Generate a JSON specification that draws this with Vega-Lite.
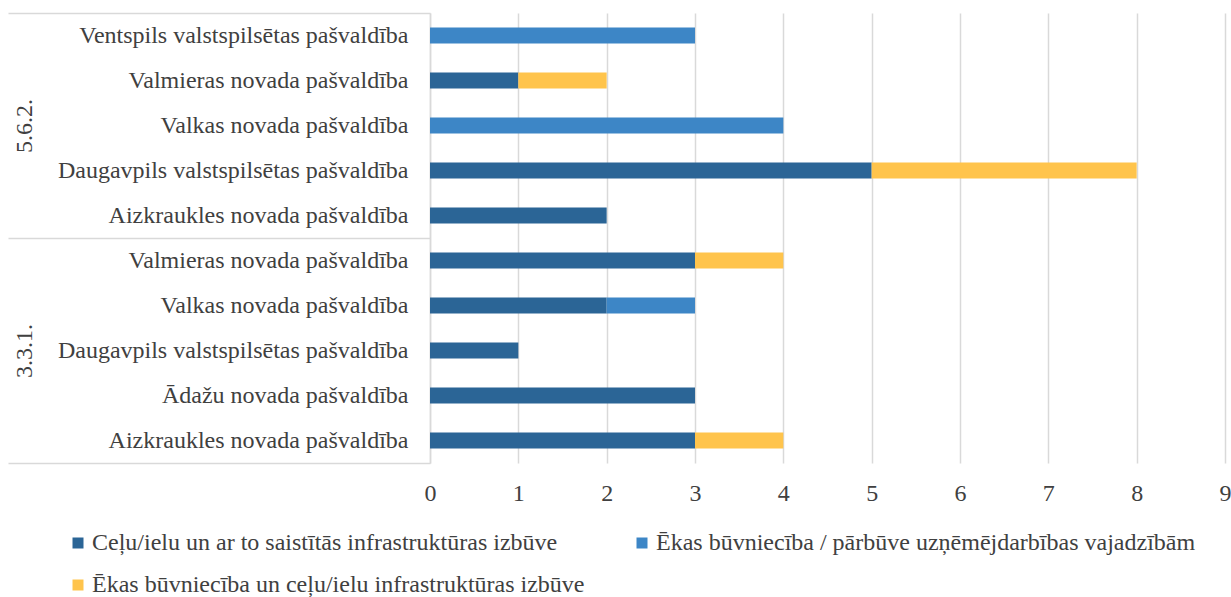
{
  "$schema": "https://vega.github.io/schema/vega-lite/v6.json",
  "autosize": "none",
  "width": 795,
  "height": 450,
  "padding": {"left": 430, "top": 13, "right": 6, "bottom": 134},
  "background": "white",
  "config": {
    "view": {"stroke": null},
    "font": "Liberation Serif",
    "axis": {"labelFont": "Liberation Serif", "labelColor": "#404040", "labelFontSize": 24},
    "legend": {"labelFont": "Liberation Serif", "labelColor": "#404040", "labelFontSize": 24}
  },
  "data": {
    "values": [
      {"grp": "5.6.2.", "key": "5.6.2.|Ventspils valstspilsētas pašvaldība", "cat": "Ēkas būvniecība / pārbūve uzņēmējdarbības vajadzībām", "ord": 2, "val": 3},
      {"grp": "5.6.2.", "key": "5.6.2.|Valmieras novada pašvaldība", "cat": "Ceļu/ielu un ar to saistītās infrastruktūras izbūve", "ord": 1, "val": 1},
      {"grp": "5.6.2.", "key": "5.6.2.|Valmieras novada pašvaldība", "cat": "Ēkas būvniecība un ceļu/ielu infrastruktūras izbūve", "ord": 3, "val": 1},
      {"grp": "5.6.2.", "key": "5.6.2.|Valkas novada pašvaldība", "cat": "Ēkas būvniecība / pārbūve uzņēmējdarbības vajadzībām", "ord": 2, "val": 4},
      {"grp": "5.6.2.", "key": "5.6.2.|Daugavpils valstspilsētas pašvaldība", "cat": "Ceļu/ielu un ar to saistītās infrastruktūras izbūve", "ord": 1, "val": 5},
      {"grp": "5.6.2.", "key": "5.6.2.|Daugavpils valstspilsētas pašvaldība", "cat": "Ēkas būvniecība un ceļu/ielu infrastruktūras izbūve", "ord": 3, "val": 3},
      {"grp": "5.6.2.", "key": "5.6.2.|Aizkraukles novada pašvaldība", "cat": "Ceļu/ielu un ar to saistītās infrastruktūras izbūve", "ord": 1, "val": 2},
      {"grp": "3.3.1.", "key": "3.3.1.|Valmieras novada pašvaldība", "cat": "Ceļu/ielu un ar to saistītās infrastruktūras izbūve", "ord": 1, "val": 3},
      {"grp": "3.3.1.", "key": "3.3.1.|Valmieras novada pašvaldība", "cat": "Ēkas būvniecība un ceļu/ielu infrastruktūras izbūve", "ord": 3, "val": 1},
      {"grp": "3.3.1.", "key": "3.3.1.|Valkas novada pašvaldība", "cat": "Ceļu/ielu un ar to saistītās infrastruktūras izbūve", "ord": 1, "val": 2},
      {"grp": "3.3.1.", "key": "3.3.1.|Valkas novada pašvaldība", "cat": "Ēkas būvniecība / pārbūve uzņēmējdarbības vajadzībām", "ord": 2, "val": 1},
      {"grp": "3.3.1.", "key": "3.3.1.|Daugavpils valstspilsētas pašvaldība", "cat": "Ceļu/ielu un ar to saistītās infrastruktūras izbūve", "ord": 1, "val": 1},
      {"grp": "3.3.1.", "key": "3.3.1.|Ādažu novada pašvaldība", "cat": "Ceļu/ielu un ar to saistītās infrastruktūras izbūve", "ord": 1, "val": 3},
      {"grp": "3.3.1.", "key": "3.3.1.|Aizkraukles novada pašvaldība", "cat": "Ceļu/ielu un ar to saistītās infrastruktūras izbūve", "ord": 1, "val": 3},
      {"grp": "3.3.1.", "key": "3.3.1.|Aizkraukles novada pašvaldība", "cat": "Ēkas būvniecība un ceļu/ielu infrastruktūras izbūve", "ord": 3, "val": 1}
    ]
  },
  "layer": [
    {
      "mark": {"type": "bar"},
      "encoding": {
        "y": {
          "field": "key",
          "type": "nominal",
          "sort": [
            "5.6.2.|Ventspils valstspilsētas pašvaldība",
            "5.6.2.|Valmieras novada pašvaldība",
            "5.6.2.|Valkas novada pašvaldība",
            "5.6.2.|Daugavpils valstspilsētas pašvaldība",
            "5.6.2.|Aizkraukles novada pašvaldība",
            "3.3.1.|Valmieras novada pašvaldība",
            "3.3.1.|Valkas novada pašvaldība",
            "3.3.1.|Daugavpils valstspilsētas pašvaldība",
            "3.3.1.|Ādažu novada pašvaldība",
            "3.3.1.|Aizkraukles novada pašvaldība"
          ],
          "scale": {"paddingInner": 0.64, "paddingOuter": 0.32},
          "axis": {
            "orient": "left",
            "title": null,
            "ticks": false,
            "domain": true,
            "domainColor": "#D9D9D9",
            "domainWidth": 1.5,
            "labelPadding": 22,
            "labelLimit": 500,
            "labelExpr": "split(datum.label, '|')[1]"
          }
        },
        "x": {
          "field": "val",
          "type": "quantitative",
          "stack": "zero",
          "scale": {"domain": [0, 9], "nice": false},
          "axis": {
            "title": null,
            "values": [0, 1, 2, 3, 4, 5, 6, 7, 8, 9],
            "domain": false,
            "ticks": false,
            "grid": true,
            "gridColor": "#D9D9D9",
            "gridWidth": 1.5,
            "labelFlush": false,
            "labelPadding": 18
          }
        },
        "color": {
          "field": "cat",
          "type": "nominal",
          "scale": {
            "domain": [
              "Ceļu/ielu un ar to saistītās infrastruktūras izbūve",
              "Ēkas būvniecība un ceļu/ielu infrastruktūras izbūve",
              "Ēkas būvniecība / pārbūve uzņēmējdarbības vajadzībām"
            ],
            "range": ["#2B6596", "#FFC44C", "#3D86C6"]
          },
          "legend": {
            "title": null,
            "orient": "none",
            "legendX": -364,
            "legendY": 518,
            "columns": 2,
            "columnPadding": 45,
            "rowPadding": 18,
            "padding": 0,
            "symbolType": "square",
            "symbolSize": 121,
            "symbolStrokeWidth": 0,
            "symbolOpacity": 1,
            "labelOffset": 2,
            "labelLimit": 700
          }
        },
        "order": {"field": "ord", "type": "quantitative"}
      }
    },
    {
      "mark": {"type": "point", "opacity": 0},
      "encoding": {
        "y": {
          "field": "grp",
          "type": "nominal",
          "sort": ["5.6.2.", "3.3.1."],
          "scale": {"paddingInner": 0, "paddingOuter": 0},
          "axis": {
            "orient": "left",
            "title": null,
            "domain": false,
            "grid": false,
            "ticks": true,
            "tickBand": "extent",
            "tickSize": 422,
            "tickColor": "#D9D9D9",
            "tickWidth": 1.5,
            "labelAngle": 270,
            "labelAlign": "center",
            "labelBaseline": "top",
            "labelPadding": -4
          }
        }
      }
    }
  ],
  "resolve": {"scale": {"y": "independent"}, "axis": {"y": "independent"}}
}
